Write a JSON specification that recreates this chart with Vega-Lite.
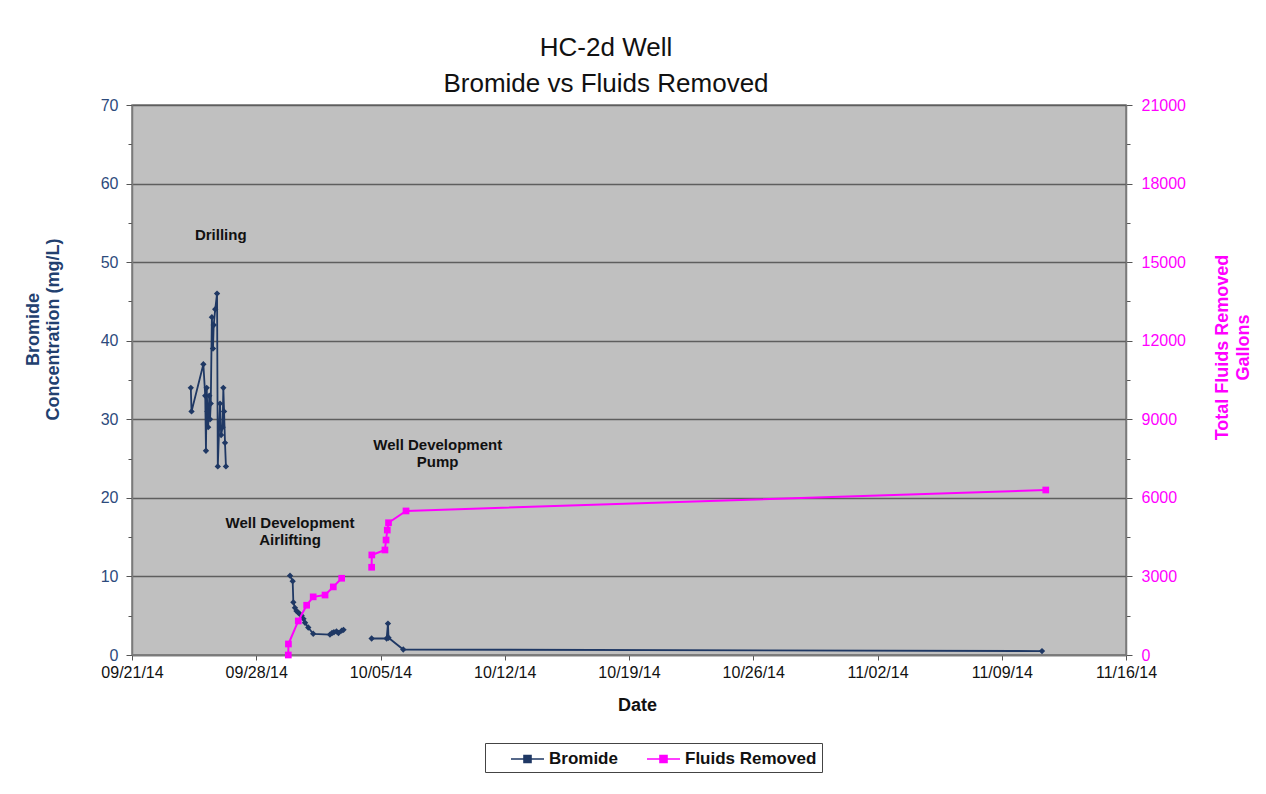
{
  "$schema": "https://vega.github.io/schema/vega-lite/v6.json",
  "width": 994,
  "height": 550,
  "autosize": {"type": "none"},
  "padding": {"left": 132, "top": 105, "right": 140, "bottom": 139},
  "background": "white",
  "title": {
    "text": ["HC-2d Well", "Bromide vs Fluids Removed"],
    "font": "Liberation Sans",
    "fontSize": 26,
    "fontWeight": "normal",
    "color": "#111111",
    "lineHeight": 36,
    "anchor": "middle",
    "dx": -23,
    "offset": 0
  },
  "datasets": {
    "series": [
      {"date": "2014-09-24T07:30", "series": "Bromide", "run": 1, "value": 34},
      {"date": "2014-09-24T08:30", "series": "Bromide", "run": 1, "value": 31},
      {"date": "2014-09-25T00:30", "series": "Bromide", "run": 1, "value": 37},
      {"date": "2014-09-25T03:00", "series": "Bromide", "run": 1, "value": 33},
      {"date": "2014-09-25T04:00", "series": "Bromide", "run": 1, "value": 26},
      {"date": "2014-09-25T05:00", "series": "Bromide", "run": 1, "value": 34},
      {"date": "2014-09-25T06:00", "series": "Bromide", "run": 1, "value": 31},
      {"date": "2014-09-25T07:00", "series": "Bromide", "run": 1, "value": 29},
      {"date": "2014-09-25T08:30", "series": "Bromide", "run": 1, "value": 33},
      {"date": "2014-09-25T09:30", "series": "Bromide", "run": 1, "value": 30},
      {"date": "2014-09-25T10:30", "series": "Bromide", "run": 1, "value": 32},
      {"date": "2014-09-25T12:00", "series": "Bromide", "run": 1, "value": 43},
      {"date": "2014-09-25T13:30", "series": "Bromide", "run": 1, "value": 39},
      {"date": "2014-09-25T14:30", "series": "Bromide", "run": 1, "value": 42},
      {"date": "2014-09-25T16:30", "series": "Bromide", "run": 1, "value": 44},
      {"date": "2014-09-25T19:00", "series": "Bromide", "run": 1, "value": 46},
      {"date": "2014-09-25T20:00", "series": "Bromide", "run": 1, "value": 24},
      {"date": "2014-09-25T23:00", "series": "Bromide", "run": 1, "value": 32},
      {"date": "2014-09-26T00:30", "series": "Bromide", "run": 1, "value": 28},
      {"date": "2014-09-26T02:30", "series": "Bromide", "run": 1, "value": 29},
      {"date": "2014-09-26T03:30", "series": "Bromide", "run": 1, "value": 34},
      {"date": "2014-09-26T04:30", "series": "Bromide", "run": 1, "value": 31},
      {"date": "2014-09-26T05:45", "series": "Bromide", "run": 1, "value": 27},
      {"date": "2014-09-26T07:00", "series": "Bromide", "run": 1, "value": 24},
      {"date": "2014-09-29T21:40", "series": "Bromide", "run": 2, "value": 10.1},
      {"date": "2014-09-30T01:15", "series": "Bromide", "run": 2, "value": 9.4},
      {"date": "2014-09-30T02:10", "series": "Bromide", "run": 2, "value": 6.7},
      {"date": "2014-09-30T04:20", "series": "Bromide", "run": 2, "value": 6.0},
      {"date": "2014-09-30T06:25", "series": "Bromide", "run": 2, "value": 5.6},
      {"date": "2014-09-30T08:50", "series": "Bromide", "run": 2, "value": 5.4},
      {"date": "2014-09-30T11:00", "series": "Bromide", "run": 2, "value": 5.2},
      {"date": "2014-09-30T13:25", "series": "Bromide", "run": 2, "value": 5.0},
      {"date": "2014-09-30T15:50", "series": "Bromide", "run": 2, "value": 4.6},
      {"date": "2014-09-30T18:00", "series": "Bromide", "run": 2, "value": 4.1},
      {"date": "2014-09-30T22:20", "series": "Bromide", "run": 2, "value": 3.5},
      {"date": "2014-10-01T05:00", "series": "Bromide", "run": 2, "value": 2.7},
      {"date": "2014-10-02T03:40", "series": "Bromide", "run": 2, "value": 2.6},
      {"date": "2014-10-02T06:25", "series": "Bromide", "run": 2, "value": 2.8},
      {"date": "2014-10-02T09:00", "series": "Bromide", "run": 2, "value": 2.9},
      {"date": "2014-10-02T12:30", "series": "Bromide", "run": 2, "value": 3.0},
      {"date": "2014-10-02T15:10", "series": "Bromide", "run": 2, "value": 2.8},
      {"date": "2014-10-02T19:30", "series": "Bromide", "run": 2, "value": 3.1},
      {"date": "2014-10-02T22:00", "series": "Bromide", "run": 2, "value": 3.2},
      {"date": "2014-10-04T12:00", "series": "Bromide", "run": 3, "value": 2.1},
      {"date": "2014-10-05T08:20", "series": "Bromide", "run": 3, "value": 2.1},
      {"date": "2014-10-05T10:05", "series": "Bromide", "run": 3, "value": 4.0},
      {"date": "2014-10-05T10:50", "series": "Bromide", "run": 3, "value": 2.2},
      {"date": "2014-10-06T06:45", "series": "Bromide", "run": 3, "value": 0.7},
      {"date": "2014-11-11T06:25", "series": "Bromide", "run": 3, "value": 0.5},
      {"date": "2014-09-29T19:20", "series": "Fluids Removed", "run": 2, "value": 0},
      {"date": "2014-09-29T19:30", "series": "Fluids Removed", "run": 2, "value": 420},
      {"date": "2014-09-30T08:50", "series": "Fluids Removed", "run": 2, "value": 1300},
      {"date": "2014-09-30T20:10", "series": "Fluids Removed", "run": 2, "value": 1900},
      {"date": "2014-10-01T05:00", "series": "Fluids Removed", "run": 2, "value": 2220},
      {"date": "2014-10-01T21:00", "series": "Fluids Removed", "run": 2, "value": 2290},
      {"date": "2014-10-02T08:10", "series": "Fluids Removed", "run": 2, "value": 2600},
      {"date": "2014-10-02T19:30", "series": "Fluids Removed", "run": 2, "value": 2930},
      {"date": "2014-10-04T12:00", "series": "Fluids Removed", "run": 3, "value": 3350},
      {"date": "2014-10-04T12:15", "series": "Fluids Removed", "run": 3, "value": 3820},
      {"date": "2014-10-05T06:00", "series": "Fluids Removed", "run": 3, "value": 4010},
      {"date": "2014-10-05T07:30", "series": "Fluids Removed", "run": 3, "value": 4390},
      {"date": "2014-10-05T09:10", "series": "Fluids Removed", "run": 3, "value": 4770},
      {"date": "2014-10-05T10:50", "series": "Fluids Removed", "run": 3, "value": 5050},
      {"date": "2014-10-06T10:30", "series": "Fluids Removed", "run": 3, "value": 5500},
      {"date": "2014-11-11T11:30", "series": "Fluids Removed", "run": 3, "value": 6300}
    ],
    "notes": [
      {"date": "2014-09-26T00:00", "value": 53.5, "text": "Drilling"},
      {"date": "2014-09-29T21:40", "value": 16.8, "text": "Well Development"},
      {"date": "2014-09-29T21:40", "value": 14.6, "text": "Airlifting"},
      {"date": "2014-10-08T05:20", "value": 26.7, "text": "Well Development"},
      {"date": "2014-10-08T05:20", "value": 24.6, "text": "Pump"}
    ]
  },
  "encoding": {
    "x": {
      "field": "date",
      "type": "temporal",
      "scale": {
        "domain": [
          {"year": 2014, "month": 9, "date": 21},
          {"year": 2014, "month": 11, "date": 16}
        ]
      },
      "axis": {
        "title": "Date",
        "format": "%m/%d/%y",
        "values": [
          {"year": 2014, "month": 9, "date": 21},
          {"year": 2014, "month": 9, "date": 28},
          {"year": 2014, "month": 10, "date": 5},
          {"year": 2014, "month": 10, "date": 12},
          {"year": 2014, "month": 10, "date": 19},
          {"year": 2014, "month": 10, "date": 26},
          {"year": 2014, "month": 11, "date": 2},
          {"year": 2014, "month": 11, "date": 9},
          {"year": 2014, "month": 11, "date": 16}
        ],
        "grid": false,
        "domainColor": "#7a7a7a",
        "domainWidth": 1.5,
        "tickColor": "#555555",
        "tickSize": 5,
        "labelColor": "#111111",
        "labelFontSize": 16,
        "labelPadding": 4,
        "labelFlush": false,
        "labelOverlap": false,
        "titleFontSize": 18,
        "titleFontWeight": "bold",
        "titleColor": "#111111",
        "titlePadding": 16,
        "titleX": 505
      }
    }
  },
  "layer": [
    {
      "encoding": {
        "y": {
          "field": "value",
          "type": "quantitative",
          "scale": {"domain": [0, 70], "nice": false, "zero": true},
          "axis": {
            "orient": "left",
            "title": ["Bromide", "Concentration  (mg/L)"],
            "values": [0, 5, 10, 15, 20, 25, 30, 35, 40, 45, 50, 55, 60, 65, 70],
            "labelExpr": "datum.value % 10 === 0 ? datum.label : ''",
            "grid": true,
            "gridColor": "#5e5e5e",
            "gridWidth": 1.5,
            "gridOpacity": {"condition": {"test": "datum.value % 10 === 0", "value": 1}, "value": 0},
            "tickSize": {"condition": {"test": "datum.value % 10 === 0", "value": 6}, "value": 4},
            "tickColor": "#555555",
            "domainColor": "#7a7a7a",
            "domainWidth": 1.5,
            "labelColor": "#2d4a7c",
            "labelFontSize": 16,
            "labelPadding": 8,
            "titleColor": "#22406f",
            "titleFontSize": 18,
            "titleFontWeight": "bold",
            "titleLineHeight": 20,
            "titleBaseline": "middle",
            "titleX": -99,
            "titleY": 224
          }
        }
      },
      "layer": [
        {
          "data": {"name": "series"},
          "transform": [{"filter": "datum.series === 'Bromide'"}],
          "mark": {"type": "line", "strokeWidth": 1.8},
          "encoding": {
            "detail": {"field": "run", "type": "nominal"},
            "color": {
              "field": "series",
              "type": "nominal",
              "scale": {"domain": ["Bromide", "Fluids Removed"], "range": ["#1f3864", "#ff00ff"]},
              "legend": {
                "title": null,
                "orient": "none",
                "legendX": 353,
                "legendY": 638,
                "direction": "horizontal",
                "strokeColor": "#444444",
                "fillColor": "white",
                "padding": 5,
                "columnPadding": 8,
                "labelFont": "Liberation Sans",
                "labelFontSize": 17,
                "labelFontWeight": "bold",
                "labelColor": "#111111",
                "labelOffset": 37,
                "symbolType": "M1,0H4.3M2.3,-0.35H3V0.35H2.3Z",
                "symbolSize": 400,
                "symbolStrokeWidth": 1.6
              }
            }
          }
        },
        {
          "data": {"name": "series"},
          "transform": [{"filter": "datum.series === 'Bromide'"}],
          "mark": {"type": "point", "shape": "diamond", "filled": true, "size": 40, "opacity": 1},
          "encoding": {
            "color": {"field": "series", "type": "nominal"}
          }
        },
        {
          "data": {"name": "notes"},
          "mark": {"type": "text", "font": "Liberation Sans", "fontSize": 15, "fontWeight": "bold", "color": "#111111", "align": "center", "baseline": "middle"},
          "encoding": {
            "text": {"field": "text", "type": "nominal"}
          }
        }
      ]
    },
    {
      "data": {"name": "series"},
      "transform": [{"filter": "datum.series === 'Fluids Removed'"}],
      "encoding": {
        "y": {
          "field": "value",
          "type": "quantitative",
          "scale": {"domain": [0, 21000], "nice": false, "zero": true},
          "axis": {
            "orient": "right",
            "title": ["Total Fluids Removed", "Gallons"],
            "values": [0, 1500, 3000, 4500, 6000, 7500, 9000, 10500, 12000, 13500, 15000, 16500, 18000, 19500, 21000],
            "labelExpr": "datum.value % 3000 === 0 ? datum.label : ''",
            "format": "d",
            "grid": false,
            "tickSize": {"condition": {"test": "datum.value % 3000 === 0", "value": 6}, "value": 4},
            "tickColor": "#555555",
            "domainColor": "#7a7a7a",
            "domainWidth": 1.5,
            "labelColor": "#ff00ff",
            "labelFontSize": 16,
            "labelPadding": 9,
            "titleColor": "#ff00ff",
            "titleFontSize": 18,
            "titleFontWeight": "bold",
            "titleAngle": 270,
            "titleLineHeight": 21,
            "titleBaseline": "middle",
            "titleX": 96,
            "titleY": 242
          }
        },
        "color": {"field": "series", "type": "nominal"}
      },
      "layer": [
        {"mark": {"type": "line", "strokeWidth": 2}, "encoding": {"detail": {"field": "run", "type": "nominal"}}},
        {"mark": {"type": "square", "size": 45, "opacity": 1}}
      ]
    }
  ],
  "resolve": {"scale": {"y": "independent"}},
  "config": {
    "font": "Liberation Sans",
    "view": {"fill": "#c0c0c0", "stroke": "#7a7a7a", "strokeWidth": 1.5},
    "axis": {"labelFont": "Liberation Sans", "titleFont": "Liberation Sans"}
  }
}
